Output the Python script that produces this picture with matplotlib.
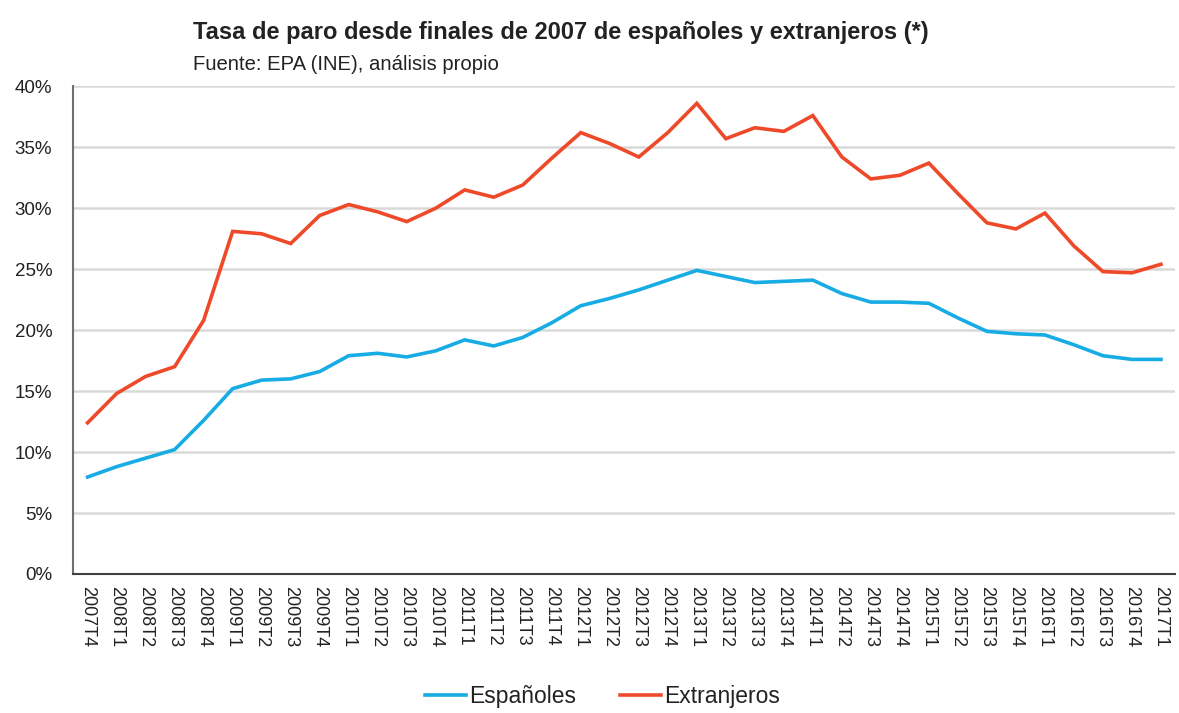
import matplotlib
matplotlib.use("Agg")
import matplotlib.pyplot as plt
from matplotlib.ticker import FuncFormatter

plt.rcParams['font.family'] = ['Liberation Sans', 'DejaVu Sans']

quarters = ["2007T4",
            "2008T1", "2008T2", "2008T3", "2008T4",
            "2009T1", "2009T2", "2009T3", "2009T4",
            "2010T1", "2010T2", "2010T3", "2010T4",
            "2011T1", "2011T2", "2011T3", "2011T4",
            "2012T1", "2012T2", "2012T3", "2012T4",
            "2013T1", "2013T2", "2013T3", "2013T4",
            "2014T1", "2014T2", "2014T3", "2014T4",
            "2015T1", "2015T2", "2015T3", "2015T4",
            "2016T1", "2016T2", "2016T3", "2016T4",
            "2017T1"]

espanoles = [7.95, 8.8, 9.5, 10.2, 12.6, 15.2, 15.9, 16.0, 16.6, 17.9, 18.1, 17.8, 18.3,
             19.2, 18.7, 19.4, 20.6, 22.0, 22.6, 23.3, 24.1, 24.9, 24.4, 23.9, 24.0, 24.1,
             23.0, 22.3, 22.3, 22.2, 21.0, 19.9, 19.7, 19.6, 18.8, 17.9, 17.6, 17.6]

extranjeros = [12.4, 14.8, 16.2, 17.0, 20.8, 28.1, 27.9, 27.1, 29.4, 30.3, 29.7, 28.9, 30.0,
               31.5, 30.9, 31.9, 34.1, 36.2, 35.3, 34.2, 36.2, 38.6, 35.7, 36.6, 36.3, 37.6,
               34.2, 32.4, 32.7, 33.7, 31.2, 28.8, 28.3, 29.6, 26.9, 24.8, 24.7, 25.4]

yticks = [0, 5, 10, 15, 20, 25, 30, 35, 40]

fig = plt.figure(figsize=(11.79, 7.13), dpi=100)
ax = fig.add_axes([0.062, 0.195, 0.935, 0.684])

x = list(range(len(quarters)))
ax.plot(x, espanoles, color='#17ACE3', lw=2.6, label='Españoles', solid_joinstyle='miter')
ax.plot(x, extranjeros, color='#EE4A2A', lw=2.6, label='Extranjeros', solid_joinstyle='miter')

ax.set_xlim(-0.5, len(quarters) - 0.5)
ax.set_ylim(0, 40)
ax.set_yticks(yticks)
ax.yaxis.set_major_formatter(FuncFormatter(lambda v, p: f"{int(v)}%"))
ax.set_xticks(x)
ax.set_xticklabels(quarters, rotation=270, fontsize=13, color='#222222')
ax.tick_params(axis='y', labelsize=13.5, colors='#222222', length=0, pad=15)
ax.tick_params(axis='x', length=0, pad=9)

ax.grid(axis='y', color='#D9D9D9', lw=1.8)
ax.set_axisbelow(True)
for s in ['top', 'right']:
    ax.spines[s].set_visible(False)
ax.spines['left'].set_color('#707070')
ax.spines['left'].set_linewidth(1.5)
ax.spines['bottom'].set_color('#404040')
ax.spines['bottom'].set_linewidth(1.5)

fig.text(193 / 1179, 1 - 32 / 713, "Tasa de paro desde finales de 2007 de españoles y extranjeros (*)",
         fontsize=17, fontweight='bold', color='#222222', va='center', ha='left')
fig.text(193 / 1179, 1 - 64 / 713, "Fuente: EPA (INE), análisis propio",
         fontsize=14.6, color='#222222', va='center', ha='left')

leg = fig.legend(loc='center', bbox_to_anchor=(0.511, 1 - 697 / 713), ncol=2, frameon=False,
                 fontsize=16.5, handlelength=1.8, handletextpad=0.15, columnspacing=1.9)
for t in leg.get_texts():
    t.set_color('#222222')

fig.savefig("out.png", dpi=100)
